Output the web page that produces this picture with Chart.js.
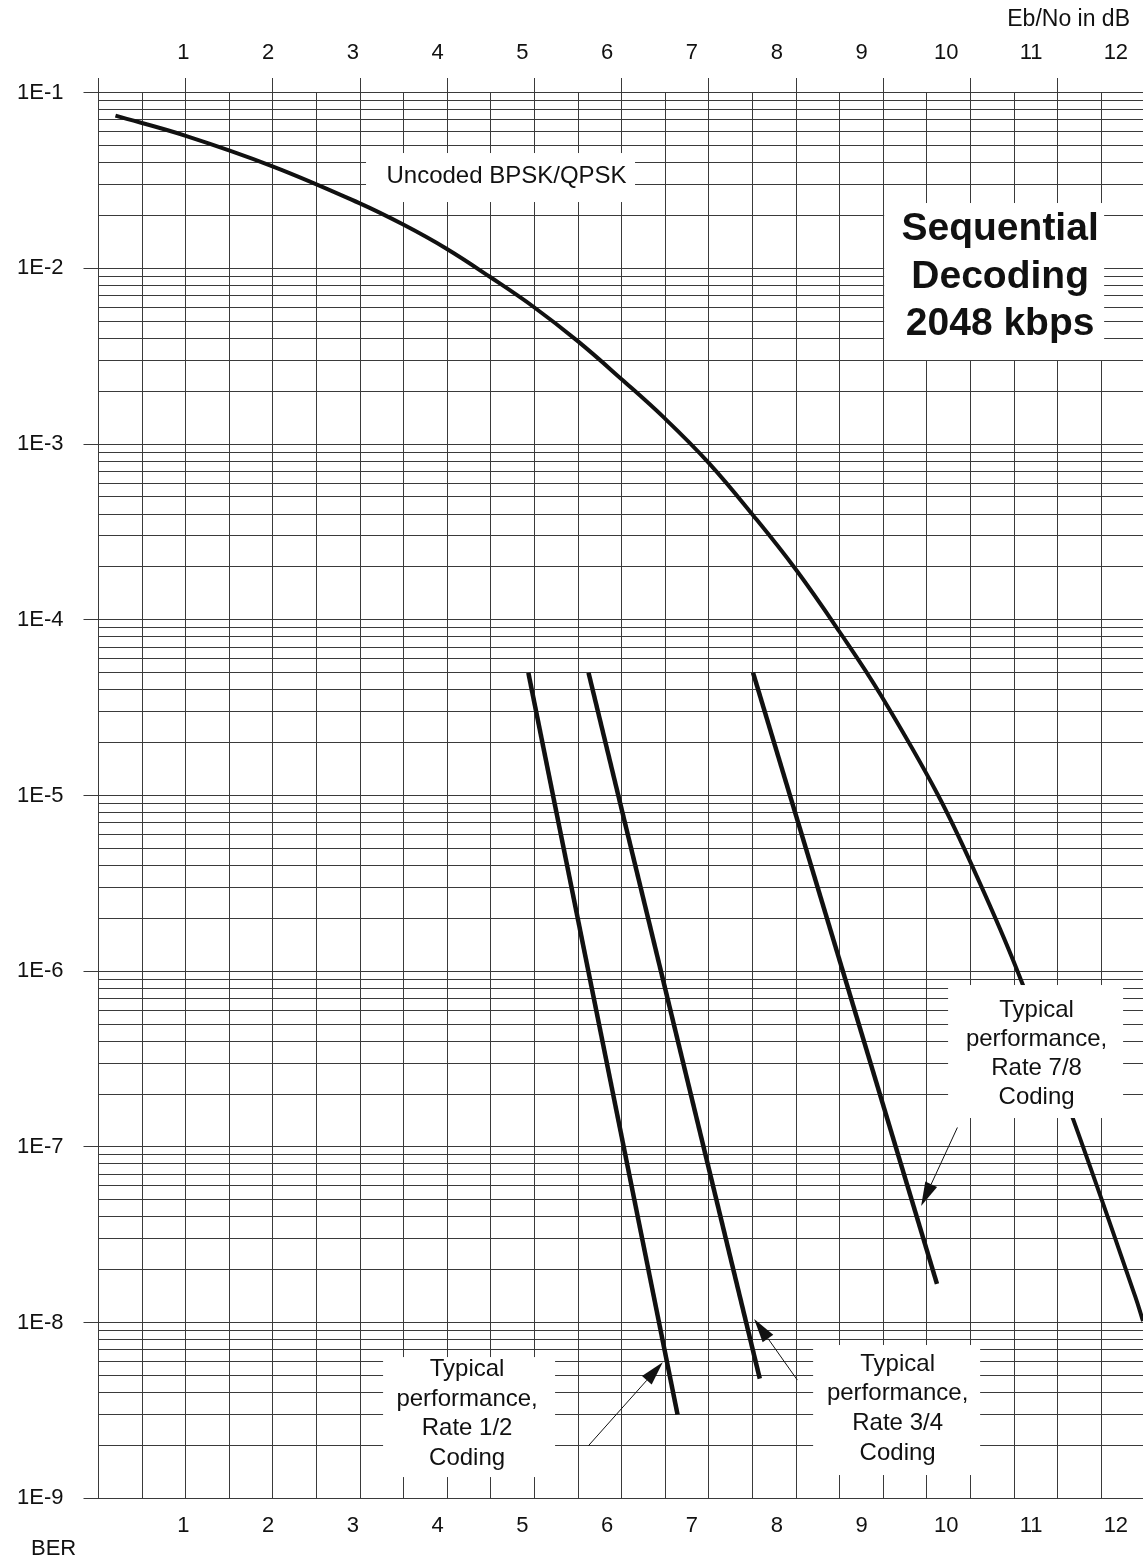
<!DOCTYPE html>
<html>
<head>
<meta charset="utf-8">
<title>Sequential Decoding 2048 kbps</title>
<script src="https://cdn.jsdelivr.net/npm/chart.js@4.4.1/dist/chart.umd.min.js"></script>
<style>
  html, body { margin: 0; padding: 0; background: #fff; overflow: hidden; }
  #wrap { position: relative; width: 1143px; height: 1564px; }
</style>
</head>
<body>
<div id="wrap"><canvas id="berChart"></canvas></div>
<script>
// values (Eb/No in dB, BER)
const uncodedEbNo = [0.20, 1.02, 2.06, 3.07, 3.60, 4.11, 4.62, 5.13, 5.66, 6.17, 6.68, 7.20, 7.72, 8.23, 8.74, 9.22, 9.90, 10.38, 10.84, 11.50, 12.23, 12.32];
const uncodedBer = [7.4e-2, 5.7e-2, 3.8e-2, 2.36e-2, 1.77e-2, 1.29e-2, 8.93e-3, 6.05e-3, 3.83e-3, 2.34e-3, 1.40e-3, 7.8e-4, 3.94e-4, 1.92e-4, 8.55e-5, 3.78e-5, 1.01e-5, 3.3e-6, 1.0e-6, 1.42e-7, 1.40e-8, 1.02e-8];

const rate12EbNo = [5.07, 6.83];
const rate12Ber = [5e-5, 3e-9];
const rate34EbNo = [5.78, 7.80];
const rate34Ber = [5e-5, 4.8e-9];
const rate78EbNo = [7.72, 9.89];
const rate78Ber = [5e-5, 1.66e-8];

const ebNoTicks = [1, 2, 3, 4, 5, 6, 7, 8, 9, 10, 11, 12];
const berDecades = [-9, -8, -7, -6, -5, -4, -3, -2, -1];

// chart grid is printed at its own spacing, not on the dB ticks
const gridSteps = 24;

const notes = [
    { at: [4.742, 3.29e-2], w: 269, h: 49, dx: 6, dy: -1.5, lh: 29, font: '24px "Liberation Sans", Arial, sans-serif', lines: ['Uncoded BPSK/QPSK'] },
    { at: [10.564, 8.42e-3], w: 220, h: 157, dx: 6, dy: -4.5, lh: 47.5, font: 'bold 39px "Liberation Sans", Arial, sans-serif', lines: ['Sequential', 'Decoding', '2048 kbps'] },
    { at: [11.053, 3.49e-7], w: 175, h: 133, dx: 1, dy: 2.4, lh: 29, font: '24px "Liberation Sans", Arial, sans-serif', lines: ['Typical', 'performance,', 'Rate 7/8', 'Coding'] },
    { at: [4.371, 2.90e-9], w: 172, h: 120, dx: -2, dy: -3, lh: 29.5, font: '24px "Liberation Sans", Arial, sans-serif', lines: ['Typical', 'performance,', 'Rate 1/2', 'Coding'] },
    { at: [9.414, 3.18e-9], w: 167, h: 130, dx: 1, dy: -1.3, lh: 29.7, font: '24px "Liberation Sans", Arial, sans-serif', lines: ['Typical', 'performance,', 'Rate 3/4', 'Coding'] }
];

const arrows = [
    { from: [5.778, 1.99e-9], to: [6.656, 5.94e-9] },
    { from: [8.243, 4.71e-9], to: [7.733, 1.05e-8] },
    { from: [10.131, 1.29e-7], to: [9.703, 4.61e-8] }
];

const ink = '#111';
const gridInk = '#3a3a3a';
const font = '"Liberation Sans", Arial, Helvetica, sans-serif';

function toPoints(xs, ys) {
    return xs.map((x, i) => ({ x: x, y: ys[i] }));
}

function isDecade(v) {
    const e = Math.round(Math.log10(v));
    return Math.abs(v - Math.pow(10, e)) < Math.pow(10, e) * 1e-6;
}

const berTicks = [];
berDecades.forEach(e => {
    if (e === -1) { berTicks.push(0.1); return; }
    for (let m = 1; m <= 9; m++) berTicks.push(Number((m * Math.pow(10, e)).toPrecision(3)));
});

const notesPlugin = {
    id: 'notes',
    afterDatasetsDraw(chart) {
        const { ctx, scales: { x, y } } = chart;
        ctx.save();
        notes.forEach(n => {
            const cx = x.getPixelForValue(n.at[0]);
            const cy = y.getPixelForValue(n.at[1]);
            ctx.fillStyle = '#fff';
            ctx.fillRect(cx - n.w / 2, cy - n.h / 2, n.w, n.h);
            ctx.fillStyle = ink;
            ctx.font = n.font;
            ctx.textAlign = 'center';
            ctx.textBaseline = 'middle';
            const k = n.lines.length;
            n.lines.forEach((t, i) => {
                ctx.fillText(t, cx + n.dx, cy + n.dy + (i - (k - 1) / 2) * n.lh);
            });
        });

        arrows.forEach(a => {
            const x0 = x.getPixelForValue(a.from[0]), y0 = y.getPixelForValue(a.from[1]);
            const x1 = x.getPixelForValue(a.to[0]), y1 = y.getPixelForValue(a.to[1]);
            const ang = Math.atan2(y1 - y0, x1 - x0);
            const len = 24, half = 6.5;
            const bx = x1 - len * Math.cos(ang), by = y1 - len * Math.sin(ang);
            ctx.strokeStyle = ink;
            ctx.lineWidth = 1;
            ctx.beginPath();
            ctx.moveTo(x0, y0);
            ctx.lineTo(bx, by);
            ctx.stroke();
            ctx.fillStyle = ink;
            ctx.beginPath();
            ctx.moveTo(x1, y1);
            ctx.lineTo(bx + half * Math.sin(ang), by - half * Math.cos(ang));
            ctx.lineTo(bx - half * Math.sin(ang), by + half * Math.cos(ang));
            ctx.closePath();
            ctx.fill();
        });

        // axis captions
        ctx.fillStyle = ink;
        ctx.font = '23px ' + font;
        ctx.textBaseline = 'middle';
        ctx.textAlign = 'right';
        ctx.fillText('Eb/No in dB', 1130, 20);
        ctx.textAlign = 'left';
        ctx.font = '22px ' + font;
        ctx.fillText('BER', 31, 1549);
        ctx.restore();
    }
};

const lineStyle = { borderColor: ink, borderWidth: 4.5, pointRadius: 0, fill: false, borderCapStyle: 'butt', xAxisID: 'x', yAxisID: 'y' };

const ctx = document.getElementById('berChart').getContext('2d');
const berChart = new Chart(ctx, {
    type: 'line',
    data: {
        datasets: [
            { ...lineStyle, label: 'Uncoded BPSK/QPSK', data: toPoints(uncodedEbNo, uncodedBer), borderWidth: 4, tension: 0.4 },
            { ...lineStyle, label: 'Rate 1/2', data: toPoints(rate12EbNo, rate12Ber) },
            { ...lineStyle, label: 'Rate 3/4', data: toPoints(rate34EbNo, rate34Ber) },
            { ...lineStyle, label: 'Rate 7/8', data: toPoints(rate78EbNo, rate78Ber) }
        ]
    },
    options: {
        responsive: true, maintainAspectRatio: false,
        animation: false,
        layout: { padding: 0 },
        plugins: { legend: { display: false }, tooltip: { enabled: false } },
        scales: {
            x: {
                type: 'linear', position: 'bottom', min: 0, max: 12.32,
                afterBuildTicks: s => { s.ticks = ebNoTicks.map(v => ({ value: v })); },
                afterFit: s => { s.height = 65.7; },
                grid: { display: false }, border: { display: false },
                ticks: { autoSkip: false, maxRotation: 0, padding: 6.5, color: ink, font: { family: font, size: 22 } }
            },
            xt: {
                type: 'linear', position: 'top', weight: 1, min: 0, max: 12.32,
                afterBuildTicks: s => { s.ticks = ebNoTicks.map(v => ({ value: v })); },
                afterFit: s => { s.height = 78; },
                grid: { display: false }, border: { display: false },
                ticks: { autoSkip: false, maxRotation: 0, padding: 3.8, color: ink, font: { family: font, size: 22 } }
            },
            xg: {
                type: 'linear', position: 'top', weight: 0, min: 0, max: (1143 - 98.5) / 43.6,
                afterBuildTicks: s => { s.ticks = Array.from({ length: gridSteps }, (_, k) => ({ value: k })); },
                afterFit: s => { s.height = 14.7; },
                border: { display: false },
                grid: {
                    color: gridInk, lineWidth: 1, drawTicks: true, tickLength: 14.7,
                    tickColor: c => (c.tick && c.tick.value % 2 === 0) ? gridInk : 'rgba(0,0,0,0)'
                },
                ticks: { display: false }
            },
            y: {
                type: 'logarithmic', position: 'left', min: 1e-9, max: 1e-1,
                afterBuildTicks: s => { s.ticks = berTicks.map(v => ({ value: v })); },
                afterFit: s => { s.width = 98.5; },
                border: { display: false },
                grid: {
                    color: gridInk, lineWidth: 1, drawTicks: true, tickLength: 15,
                    tickColor: c => (c.tick && isDecade(c.tick.value)) ? gridInk : 'rgba(0,0,0,0)'
                },
                ticks: {
                    autoSkip: false, padding: 20, color: ink, font: { family: font, size: 22 },
                    callback: v => isDecade(v) ? '1E' + Math.round(Math.log10(v)) : ''
                }
            }
        }
    },
    plugins: [notesPlugin]
});
</script>
</body>
</html>
